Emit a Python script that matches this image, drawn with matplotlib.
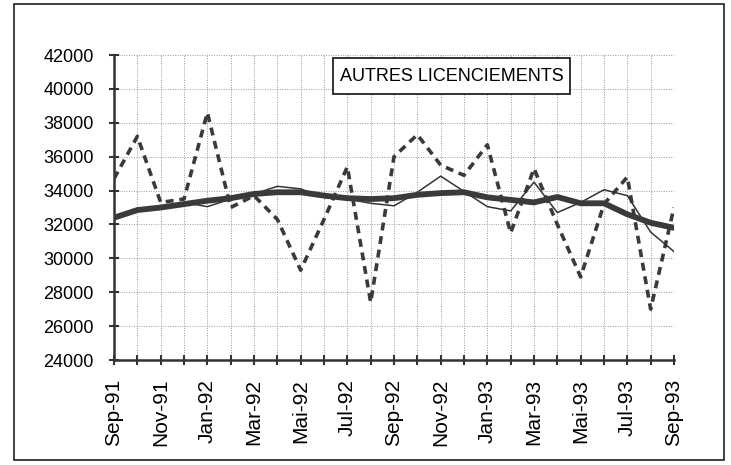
import matplotlib.pyplot as plt
import matplotlib.patches as patches

plt.rcParams['font.family'] = ['Liberation Sans', 'DejaVu Sans']

months = ['Sep-91', 'Oct-91', 'Nov-91', 'Dec-91', 'Jan-92', 'Feb-92', 'Mar-92',
          'Apr-92', 'Mai-92', 'Jun-92', 'Jul-92', 'Aug-92', 'Sep-92', 'Oct-92',
          'Nov-92', 'Dec-92', 'Jan-93', 'Feb-93', 'Mar-93', 'Apr-93', 'Mai-93',
          'Jun-93', 'Jul-93', 'Aug-93', 'Sep-93']

# raw series (dashed)
brute = [34700, 37200, 33300, 33500, 38600, 33000, 33700, 32300, 29300, 32300,
         35400, 27400, 36000, 37300, 35500, 34900, 36700, 31500, 35300, 32000,
         28900, 33200, 34800, 27000, 33000]
# seasonally adjusted (thin)
cvs = [32400, 32900, 33000, 33300, 33050, 33500, 33800, 34250, 34100, 33600,
       33500, 33250, 33100, 33900, 34850, 33950, 33050, 32800, 34500, 32700,
       33300, 34050, 33700, 31550, 30400]
# trend (thick)
tendance = [32400, 32850, 33000, 33200, 33400, 33550, 33800, 33900, 33900, 33700,
            33550, 33500, 33550, 33750, 33850, 33900, 33600, 33450, 33300, 33620,
            33250, 33250, 32600, 32100, 31800]

fig = plt.figure(figsize=(7.31, 4.65), dpi=100)
# outer frame
fig.patches.append(patches.Rectangle((0.019, 0.011), 0.972, 0.98, transform=fig.transFigure,
                                     fill=False, ec='#333333', lw=1.3))
ax = fig.add_axes([0.156, 0.2258, 0.766, 0.6559])

x = list(range(len(months)))
ax.plot(x, brute, color='#3a3a3a', lw=2.6, linestyle=(0, (2.2, 1.6)), zorder=3)
ax.plot(x, cvs, color='#333333', lw=1.1, zorder=4)
ax.plot(x, tendance, color='#3a3a3a', lw=4.2, solid_capstyle='round', zorder=5)

ax.set_xlim(0, len(months) - 1)
ax.set_ylim(24000, 42000)
ax.set_yticks(range(24000, 42001, 2000))
ax.set_xticks(x)
ax.set_xticklabels([m if i % 2 == 0 else '' for i, m in enumerate(months)],
                   rotation=90, fontsize=15)
ax.tick_params(axis='y', labelsize=13, direction='inout', length=7, width=1.5,
               color='#333333', pad=11)
ax.tick_params(axis='x', direction='inout', length=7, width=1.5, color='#333333', pad=10)

ax.grid(True, color='#999999', linestyle=(0, (1, 1.5)), lw=0.7)
for s in ['top', 'right']:
    ax.spines[s].set_visible(False)
for s in ['left', 'bottom']:
    ax.spines[s].set_linewidth(1.8)
    ax.spines[s].set_color('#333333')

# title box
ax.add_patch(patches.Rectangle((9.4, 39700), 10.15, 2100, fc='white', ec='#222222',
                               lw=1.3, zorder=6))
ax.text(14.47, 40760, 'AUTRES LICENCIEMENTS', ha='center', va='center', fontsize=13,
        zorder=7)

fig.savefig('out.png', dpi=100)
